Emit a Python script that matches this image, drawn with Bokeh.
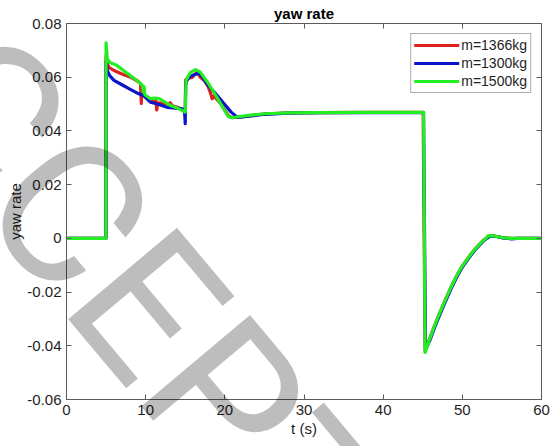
from bokeh.plotting import figure
from bokeh.layouts import column
from bokeh.models import Range1d, FixedTicker, LinearAxis, Legend, LegendItem, Div
from bokeh.embed import file_html
from bokeh.resources import INLINE

# ---- yaw-rate responses (rad/s) for three vehicle masses ----
t_1366 = [0, 4.98, 5.0, 5.15, 5.35, 6.0, 7.0, 8.1, 9.0, 9.35, 9.45, 9.55, 9.7, 10.0,
          10.6, 11.0, 11.3, 11.4, 11.5, 12.2, 12.9, 13.1, 13.3, 14.0, 14.8, 15.0,
          15.05, 15.2, 15.9, 16.5, 16.9, 17.4, 17.9, 18.2, 18.4, 18.6, 18.8, 19.5,
          20.5, 21.0, 22.0, 23.5, 25.0, 28.0, 32.0, 38.0, 45.05, 45.3, 45.8, 46.4,
          46.9, 47.4, 48.0, 48.5, 49.0, 49.5, 50.0, 50.6, 51.1, 51.6, 52.1, 52.5,
          53.0, 53.4, 54.2, 55.0, 56.1, 57.0, 60.0]
r_1366 = [0, 0, 0.068, 0.065, 0.0637, 0.0625, 0.0612, 0.0600, 0.0585, 0.0576, 0.0502,
          0.0565, 0.0545, 0.0526, 0.0520, 0.0513, 0.0510, 0.0478, 0.0505, 0.0503,
          0.0500, 0.0505, 0.0495, 0.0488, 0.0476, 0.0470, 0.0590, 0.0594, 0.0600,
          0.0619, 0.0600, 0.0588, 0.0565, 0.0540, 0.0520, 0.0530, 0.0525, 0.0500,
          0.0455, 0.0449, 0.0452, 0.0458, 0.0463, 0.0467, 0.0468, 0.0469, 0.0469,
          -0.0420, -0.0380, -0.0332, -0.0295, -0.0260, -0.0220, -0.0186, -0.0156,
          -0.0128, -0.0103, -0.0078, -0.0058, -0.0040, -0.0024, -0.0012, 0.0000,
          0.0009, 0.0008, 0.0003, 0.0000, 0.0000, 0.0000]

t_1300 = [0, 4.98, 5.0, 5.15, 5.45, 6.0, 7.0, 8.0, 9.0, 9.8, 10.6, 11.5, 12.7, 13.8,
          14.6, 14.9, 15.0, 15.05, 15.15, 15.5, 16.0, 16.7, 17.2, 17.8, 18.8, 19.8,
          20.8, 21.6, 23.0, 25.0, 28.0, 32.0, 38.0, 45.1, 45.35, 45.9, 46.5, 47.0,
          47.5, 48.1, 48.6, 49.1, 49.6, 50.1, 50.7, 51.2, 51.7, 52.2, 52.6, 53.1,
          53.5, 54.3, 55.1, 56.2, 57.0, 60.0]
r_1300 = [0, 0, 0.066, 0.0625, 0.0606, 0.0588, 0.0572, 0.0556, 0.0540, 0.0530,
          0.0507, 0.0500, 0.0488, 0.0485, 0.0482, 0.0478, 0.0427, 0.0570, 0.0585,
          0.0600, 0.0608, 0.0615, 0.0600, 0.0572, 0.0540, 0.0505, 0.0470, 0.0450,
          0.0455, 0.0462, 0.0466, 0.0468, 0.0468, 0.0468, -0.0412, -0.0380, -0.0332,
          -0.0295, -0.0260, -0.0220, -0.0186, -0.0156, -0.0128, -0.0103, -0.0078,
          -0.0058, -0.0040, -0.0024, -0.0012, 0.0000, 0.0008, 0.0007, 0.0002,
          -0.0002, 0.0000, 0.0000]

t_1500 = [0, 4.98, 5.0, 5.15, 5.5, 6.3, 7.2, 8.1, 8.9, 9.6, 9.7, 9.8, 9.9, 10.6, 11.2,
          11.7, 12.4, 13.1, 14.0, 14.9, 15.0, 15.1, 15.4, 15.7, 16.3, 16.9, 17.4,
          17.8, 18.6, 19.5, 20.4, 20.8, 21.5, 23.0, 25.0, 28.0, 32.0, 38.0, 45.1,
          45.3, 45.8, 46.4, 46.9, 47.4, 48.0, 48.5, 49.0, 49.5, 50.0, 50.6, 51.1,
          51.6, 52.1, 52.5, 53.0, 53.3, 54.2, 55.0, 56.1, 57.0, 60.0]
r_1500 = [0, 0, 0.0728, 0.0668, 0.0655, 0.0645, 0.0625, 0.0605, 0.0588, 0.0569,
          0.0545, 0.0565, 0.0535, 0.0520, 0.0522, 0.0520, 0.0508, 0.0495, 0.0485,
          0.0472, 0.0470, 0.0588, 0.0605, 0.0619, 0.0628, 0.0619, 0.0598, 0.0582,
          0.0545, 0.0500, 0.0455, 0.0449, 0.0452, 0.0458, 0.0464, 0.0467, 0.0468,
          0.0469, 0.0469, -0.0425, -0.0382, -0.0333, -0.0295, -0.0260, -0.0220,
          -0.0186, -0.0156, -0.0128, -0.0103, -0.0078, -0.0058, -0.0040, -0.0024,
          -0.0012, 0.0000, 0.0010, 0.0008, 0.0003, 0.0000, 0.0000, 0.0000]

series_names = ["m=1366kg", "m=1300kg", "m=1500kg"]
series_colors = ["#e0201b", "#0a14c8", "#22ee22"]

x_ticks = [0, 10, 20, 30, 40, 50, 60]
x_tick_labels = ["0", "10", "20", "30", "40", "50", "60"]
y_ticks = [-0.06, -0.04, -0.02, 0, 0.02, 0.04, 0.06, 0.08]
y_tick_labels = ["-0.06", "-0.04", "-0.02", "0", "0.02", "0.04", "0.06", "0.08"]

X_MIN, X_MAX = 0, 60
Y_MIN, Y_MAX = -0.06, 0.08

# ---- page geometry ----
W, H = 552, 446
LEFT, RIGHT, TOP, BOTTOM = 66, 11, 23, 47

FONT = "Liberation Sans"
AXIS_GREY = "#5a5a5a"
TEXT_COLOR = "#1e1e1e"

p = figure(width=W, height=H, output_backend="svg", toolbar_location=None,
           x_range=Range1d(X_MIN, X_MAX), y_range=Range1d(Y_MIN, Y_MAX),
           min_border_left=LEFT, min_border_right=RIGHT,
           min_border_top=TOP, min_border_bottom=BOTTOM,
           title="yaw rate")
p.background_fill_color = "white"
p.border_fill_color = "white"
p.outline_line_color = AXIS_GREY
p.outline_line_width = 1
p.xgrid.grid_line_color = None
p.ygrid.grid_line_color = None

p.title.text_font = FONT
p.title.text_font_size = "15px"
p.title.text_font_style = "bold"
p.title.text_color = "black"
p.title.align = "center"
p.title.standoff = 4


def style_axis(ax, ticks, labels, show_labels=True):
    ax.ticker = FixedTicker(ticks=ticks)
    ax.major_label_overrides = dict(zip(ticks, labels))
    ax.major_tick_in = 5
    ax.major_tick_out = 0
    ax.minor_tick_line_color = None
    ax.major_tick_line_color = AXIS_GREY
    ax.axis_line_color = AXIS_GREY
    ax.major_label_text_font = FONT
    ax.major_label_text_color = TEXT_COLOR
    if show_labels:
        ax.major_label_text_font_size = "15px"
    else:
        ax.major_label_text_font_size = "0px"
        ax.major_label_standoff = 0
        ax.axis_line_color = None


style_axis(p.xaxis[0], x_ticks, x_tick_labels)
style_axis(p.yaxis[0], y_ticks, y_tick_labels)
p.xaxis[0].major_label_standoff = 5
p.yaxis[0].major_label_standoff = 5

p.xaxis[0].axis_label = "t (s)"
p.yaxis[0].axis_label = "yaw rate"
for ax in (p.xaxis[0], p.yaxis[0]):
    ax.axis_label_text_font = FONT
    ax.axis_label_text_font_size = "15px"
    ax.axis_label_text_font_style = "normal"
    ax.axis_label_text_color = TEXT_COLOR
p.xaxis[0].axis_label_standoff = 2
p.yaxis[0].axis_label_standoff = 0

# box ticks on the opposite sides
top_axis = LinearAxis()
right_axis = LinearAxis()
style_axis(top_axis, x_ticks, [""] * len(x_ticks), show_labels=False)
style_axis(right_axis, y_ticks, [""] * len(y_ticks), show_labels=False)
p.add_layout(top_axis, "above")
p.add_layout(right_axis, "right")

# ---- traces ----
renderers = []
for tt, rr, col in zip([t_1366, t_1300, t_1500], [r_1366, r_1300, r_1500], series_colors):
    renderers.append(p.line(tt, rr, line_color=col, line_width=3.2,
                            line_join="round", line_cap="round"))

legend = Legend(items=[LegendItem(label=n, renderers=[r])
                       for n, r in zip(series_names, renderers)],
                location="top_right")
legend.label_text_font = FONT
legend.label_text_font_size = "14px"
legend.label_text_color = TEXT_COLOR
legend.glyph_width = 45
legend.glyph_height = 16
legend.label_height = 16
legend.label_standoff = 2
legend.spacing = 2
legend.padding = 3
legend.margin = 10
legend.border_line_color = AXIS_GREY
legend.border_line_width = 1
legend.background_fill_alpha = 1
p.add_layout(legend, "center")

# ---- diagonal watermark laid over the whole page ----
STAMP_TEXT = "ACCEPTED"
STAMP_X, STAMP_Y, STAMP_ANGLE = -193, 7, 50
DIV_SHIFT_X, DIV_SHIFT_Y = -5, -4   # cancels the Div's inner offset
stamp_svg = (
    f'<svg xmlns="http://www.w3.org/2000/svg" width="{W + 10}" height="{H + 10}" '
    f'style="display:block;overflow:hidden">'
    f'<text x="{STAMP_X}" y="{STAMP_Y}" transform="rotate({STAMP_ANGLE} {STAMP_X} {STAMP_Y})" '
    f'style="font-family: Roboto, \'Liberation Sans\', sans-serif; font-size: 200px; '
    f'font-weight: 400; fill: #000000; fill-opacity: 0.26">'
    f'{STAMP_TEXT}</text></svg>'
)
stamp = Div(text=stamp_svg, width=W, height=H,
            styles={"position": "absolute", "left": f"{DIV_SHIFT_X}px",
                    "top": f"{DIV_SHIFT_Y}px", "pointer-events": "none",
                    "z-index": "5", "overflow": "hidden"})

page = column(p, stamp, width=W, height=H)
open("out.html", "w").write(file_html(page, INLINE))
